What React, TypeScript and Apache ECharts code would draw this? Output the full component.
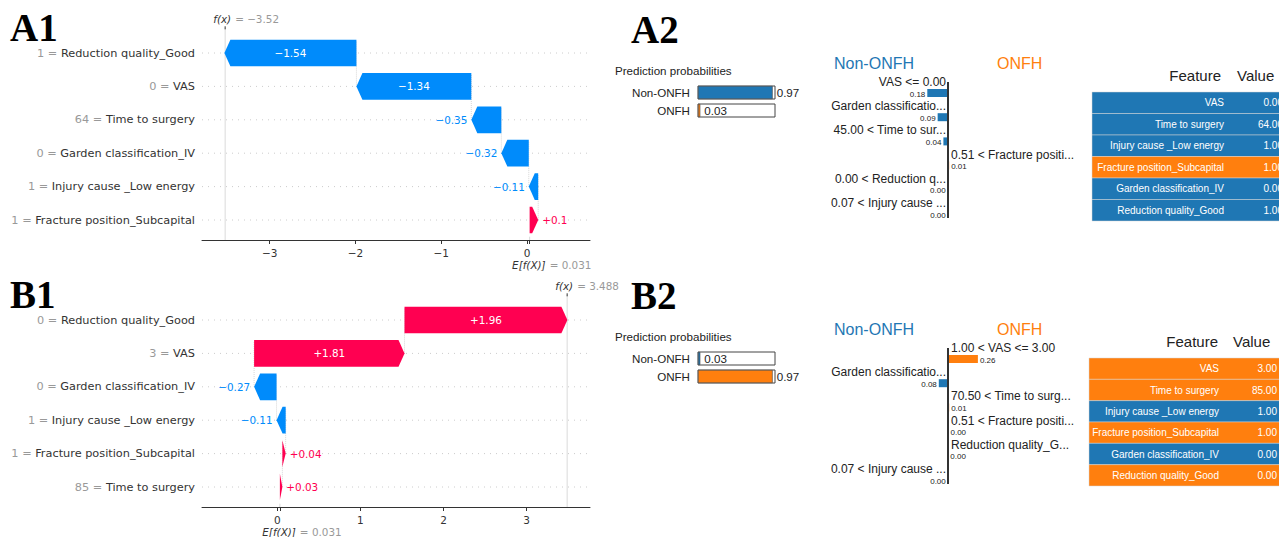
import React, { useEffect, useRef } from "react";
import * as echarts from "echarts";

// ---------- data ----------
const baseValue = 0.031;

const a1Features = ["Reduction quality_Good", "VAS", "Time to surgery", "Garden classification_IV", "Injury cause _Low energy", "Fracture position_Subcapital"];
const a1FeatureValues = ["1", "0", "64", "0", "1", "1"];
const a1Shap = [-1.54, -1.34, -0.35, -0.32, -0.11, 0.1];
const a1Fx = -3.52;
const a1Ticks = [-3, -2, -1, 0];

const b1Features = ["Reduction quality_Good", "VAS", "Garden classification_IV", "Injury cause _Low energy", "Fracture position_Subcapital", "Time to surgery"];
const b1FeatureValues = ["0", "3", "0", "1", "1", "85"];
const b1Shap = [1.96, 1.81, -0.27, -0.11, 0.04, 0.03];
const b1Fx = 3.488;
const b1Ticks = [0, 1, 2, 3];

const outcomeClasses = ["Non-ONFH", "ONFH"];
const a2Proba = [0.97, 0.03];
const b2Proba = [0.03, 0.97];

const a2LimeLabels = ["VAS <= 0.00", "Garden classificatio...", "45.00 < Time to sur...", "0.51 < Fracture positi...", "0.00 < Reduction q...", "0.07 < Injury cause ..."];
const a2LimeWeights = [-0.18, -0.09, -0.04, 0.01, -0.003, -0.002];
const b2LimeLabels = ["1.00 < VAS <= 3.00", "Garden classificatio...", "70.50 < Time to surg...", "0.51 < Fracture positi...", "Reduction quality_G...", "0.07 < Injury cause ..."];
const b2LimeWeights = [0.26, -0.08, 0.01, 0.004, 0.003, -0.002];

const tableFeatures = ["VAS", "Time to surgery", "Injury cause _Low energy", "Fracture position_Subcapital", "Garden classification_IV", "Reduction quality_Good"];
const a2TableValues = ["0.00", "64.00", "1.00", "1.00", "0.00", "1.00"];
const a2TableClass = [0, 0, 0, 1, 0, 0];
const b2TableValues = ["3.00", "85.00", "1.00", "1.00", "0.00", "0.00"];
const b2TableClass = [1, 1, 0, 1, 0, 1];

// ---------- styles ----------
const FONT_SHAP = "'DejaVu Sans', sans-serif";
const FONT_LIME = "'Liberation Sans', Arial, sans-serif";
const FONT_SERIF = "'Liberation Serif', 'Times New Roman', serif";
const BLUE = "#008bfb";
const RED = "#ff0051";
const C_BLUE = "#1f77b4";
const C_ORANGE = "#ff7f0e";
const AXIS_OFFSET = 3.3;

const minus = (s: string) => s.replace("-", "\u2212");

function waterfallData(shap: number[]) {
  const n = shap.length;
  const out: number[][] = new Array(n);
  let cum = baseValue;
  for (let i = n - 1; i >= 0; i--) {
    const s = cum;
    const e = cum + shap[i];
    out[i] = [s, e, i, shap[i]];
    cum = e;
  }
  return out;
}

function txt(x: number, y: number, text: string, o: any) {
  return {
    type: "text",
    x,
    y,
    style: {
      text,
      fill: o.fill,
      fontSize: o.fontSize,
      fontFamily: o.fontFamily,
      fontStyle: o.fontStyle || "normal",
      fontWeight: o.fontWeight || "normal",
      align: o.align,
      textAlign: o.align,
      verticalAlign: "middle",
      textVerticalAlign: "middle",
      lineHeight: o.lineHeight,
    },
    z2: 10,
  };
}

function waterfallRender(n: number) {
  return (params: any, api: any) => {
    const start = api.value(0);
    const end = api.value(1);
    const row = api.value(2);
    const shap = api.value(3);
    const p0 = api.coord([start, row]);
    const p1 = api.coord([end, row]);
    const band = api.size([0, 1])[1];
    const h = band * 0.8;
    const yc = p0[1];
    const x0 = p0[0];
    const x1 = p1[0];
    const w = Math.abs(x1 - x0);
    const hl = Math.min(6, w);
    const pos = end >= start;
    const pts = pos
      ? [[x0, yc - h / 2], [x1 - hl, yc - h / 2], [x1, yc], [x1 - hl, yc + h / 2], [x0, yc + h / 2]]
      : [[x0, yc - h / 2], [x1 + hl, yc - h / 2], [x1, yc], [x1 + hl, yc + h / 2], [x0, yc + h / 2]];
    const color = pos ? RED : BLUE;
    const cs = params.coordSys;
    const children: any[] = [
      { type: "line", shape: { x1: cs.x, y1: yc, x2: cs.x + cs.width, y2: yc }, style: { stroke: "#cccccc", lineWidth: 1, lineDash: [1, 5] }, z2: 0 },
    ];
    if (row < n - 1) {
      children.push({ type: "line", shape: { x1: x0, y1: yc - h / 2 + 2, x2: x0, y2: yc + band }, style: { stroke: "#bbbbbb", lineWidth: 0.6, lineDash: [1, 1] }, z2: 1 });
    }
    children.push({ type: "polygon", shape: { points: pts }, style: { fill: color }, z2: 3 });
    const label = (shap > 0 ? "+" : "\u2212") + String(Math.abs(shap));
    if (w > 45) {
      children.push(txt((x0 + x1) / 2, yc, label, { fill: "#ffffff", fontSize: 10.4, fontFamily: FONT_SHAP, align: "center" }));
    } else if (pos) {
      children.push(txt(x1 + 4, yc, label, { fill: RED, fontSize: 10.4, fontFamily: FONT_SHAP, align: "left" }));
    } else {
      children.push(txt(x1 - 4, yc, label, { fill: BLUE, fontSize: 10.4, fontFamily: FONT_SHAP, align: "right" }));
    }
    return { type: "group", children };
  };
}

function refRender(n: number) {
  return (params: any, api: any) => {
    const fx = api.value(0);
    const base = api.value(2);
    const cs = params.coordSys;
    const xf = api.coord([fx, 0])[0];
    const xb = api.coord([base, 0])[0];
    const axisY = cs.y + cs.height + AXIS_OFFSET;
    const band = api.size([0, 1])[1];
    const lastY = api.coord([base, n - 1])[1];
    const fxText = minus(String(fx));
    return {
      type: "group",
      children: [
        { type: "line", shape: { x1: xf, y1: cs.y - 8, x2: xf, y2: axisY }, style: { stroke: "#cfcfcf", lineWidth: 0.8 }, z2: 0 },
        { type: "line", shape: { x1: xf, y1: cs.y - 10, x2: xf, y2: cs.y - 7 }, style: { stroke: "#333333", lineWidth: 1 }, z2: 1 },
        { type: "line", shape: { x1: xb, y1: lastY + band / 2, x2: xb, y2: axisY }, style: { stroke: "#cfcfcf", lineWidth: 0.8 }, z2: 0 },
        txt(xf + 6, cs.y - 17, "f(x)", { fill: "#333333", fontSize: 10.4, fontFamily: FONT_SHAP, fontStyle: "italic", align: "right", lineHeight: 10 }),
        txt(xf + 10, cs.y - 17, "= " + fxText, { fill: "#999999", fontSize: 10.4, fontFamily: FONT_SHAP, align: "left", lineHeight: 10 }),
        txt(xb + 16, axisY + 24.5, "E[f(X)]", { fill: "#333333", fontSize: 10.4, fontFamily: FONT_SHAP, fontStyle: "italic", align: "right", lineHeight: 10 }),
        txt(xb + 20, axisY + 24.5, "= " + String(base), { fill: "#999999", fontSize: 10.4, fontFamily: FONT_SHAP, align: "left", lineHeight: 10 }),
      ],
    };
  };
}

function waterfallPanel(idx: number, top: number, min: number, max: number, features: string[], vals: string[], shap: number[], fx: number, ticks: number[]) {
  const n = features.length;
  const grid = { left: 202, top, width: 388, height: 200.4, outerBoundsMode: "none", containLabel: false };
  const xAxis = {
    type: "value",
    gridIndex: idx,
    min,
    max,
    offset: AXIS_OFFSET,
    splitLine: { show: false },
    axisLine: { show: true, onZero: false, lineStyle: { color: "#333333", width: 1 } },
    axisTick: { show: true, length: 4, lineStyle: { color: "#333333" }, customValues: [...ticks, baseValue] },
    axisLabel: {
      customValues: ticks,
      formatter: (v: number) => (v < 0 ? "\u2212" + Math.abs(v) : String(v)),
      color: "#333333",
      fontSize: 10.5,
      fontFamily: FONT_SHAP,
      margin: 7,
    },
  };
  const yAxis = {
    type: "category",
    gridIndex: idx,
    inverse: true,
    data: features,
    axisLine: { show: false },
    axisTick: { show: false },
    splitLine: { show: false },
    axisLabel: {
      margin: 7,
      formatter: (v: string, i: number) => `{v|${vals[i]} = }{n|${v}}`,
      rich: {
        v: { color: "#999999", fontSize: 11.3, fontFamily: FONT_SHAP },
        n: { color: "#333333", fontSize: 11.3, fontFamily: FONT_SHAP },
      },
    },
  };
  const series = [
    {
      type: "custom",
      xAxisIndex: idx,
      yAxisIndex: idx,
      silent: true,
      encode: { x: [0, 1], y: 2 },
      data: waterfallData(shap),
      renderItem: waterfallRender(n),
    },
    {
      type: "custom",
      xAxisIndex: idx,
      yAxisIndex: idx,
      silent: true,
      encode: { x: 0, y: 1 },
      data: [[fx, 0, baseValue]],
      renderItem: refRender(n),
    },
  ];
  return { grid, xAxis, yAxis, series };
}

function probaPanel(idx: number, top: number, proba: number[]) {
  const grid = { left: 698, top, width: 77, height: 36, outerBoundsMode: "none", containLabel: false };
  const xAxis = { type: "value", gridIndex: idx, min: 0, max: 1, show: false };
  const yAxis = {
    type: "category",
    gridIndex: idx,
    inverse: true,
    data: outcomeClasses,
    axisLine: { show: false },
    axisTick: { show: false },
    axisLabel: { margin: 8, color: "#222222", fontSize: 11.6, fontFamily: FONT_LIME },
  };
  const series = [
    {
      type: "bar",
      xAxisIndex: idx,
      yAxisIndex: idx,
      silent: true,
      barWidth: 13,
      showBackground: true,
      backgroundStyle: { color: "#ffffff", borderColor: "#444444", borderWidth: 1 },
      data: proba.map((v, i) => ({ value: v, itemStyle: { color: i === 0 ? C_BLUE : C_ORANGE, borderColor: "#444444", borderWidth: 0.6 } })),
      label: {
        show: true,
        position: "right",
        distance: 4,
        formatter: (p: any) => Number(p.value).toFixed(2),
        color: "#222222",
        fontSize: 11.6,
        fontFamily: FONT_LIME,
      },
    },
  ];
  return { grid, xAxis, yAxis, series };
}

function limePanel(idx: number, top: number, labels: string[], weights: number[]) {
  const n = labels.length;
  const grid = { left: 833, top, width: 230, height: 145.2, outerBoundsMode: "none", containLabel: false };
  const xAxis = { type: "value", gridIndex: idx, min: -1, max: 1, show: false };
  const yAxis = { type: "category", gridIndex: idx, inverse: true, data: labels, show: false };
  const series = [
    {
      type: "custom",
      xAxisIndex: idx,
      yAxisIndex: idx,
      silent: true,
      encode: { x: 0, y: 1 },
      data: weights.map((w, i) => [w, i]),
      renderItem: (params: any, api: any) => {
        const v = api.value(0);
        const row = api.value(1);
        const pc = api.coord([0, row]);
        const pv = api.coord([v, row]);
        const yc = pc[1];
        const neg = v < 0;
        const children: any[] = [
          { type: "rect", shape: { x: Math.min(pc[0], pv[0]), y: yc - 4, width: Math.abs(pv[0] - pc[0]), height: 8 }, style: { fill: neg ? C_BLUE : C_ORANGE }, z2: 2 },
          txt(neg ? pc[0] - 2 : pc[0] + 3, yc - 11, labels[params.dataIndex], { fill: "#222222", fontSize: 12, fontFamily: FONT_LIME, align: neg ? "right" : "left", lineHeight: 12 }),
          txt(neg ? pv[0] - 2 : pv[0] + 2, yc + 1, Math.abs(v).toFixed(2), { fill: "#222222", fontSize: 8, fontFamily: FONT_LIME, align: neg ? "right" : "left", lineHeight: 8 }),
        ];
        return { type: "group", children };
      },
    },
    {
      type: "custom",
      xAxisIndex: idx,
      yAxisIndex: idx,
      silent: true,
      encode: { x: 0, y: 1 },
      data: [[0, 0]],
      renderItem: (params: any, api: any) => {
        const p = api.coord([api.value(0), 0]);
        const pl = api.coord([api.value(0), n - 1]);
        return { type: "line", shape: { x1: p[0], y1: p[1] - 11, x2: p[0], y2: pl[1] + 4 }, style: { stroke: "#333333", lineWidth: 2 }, z2: 5 };
      },
    },
  ];
  return { grid, xAxis, yAxis, series };
}

function tablePanel(idx: number, left: number, top: number, height: number, values: string[], classes: number[], featRight: number, valRight: number) {
  const grid = { left, top, width: 220, height, outerBoundsMode: "none", containLabel: false };
  const xAxis = { type: "value", gridIndex: idx, min: 0, max: 1, show: false };
  const yAxis = { type: "category", gridIndex: idx, inverse: true, data: tableFeatures, show: false };
  const series = [
    {
      type: "custom",
      xAxisIndex: idx,
      yAxisIndex: idx,
      silent: true,
      encode: { x: 0, y: 1 },
      data: classes.map((c, i) => [c, i]),
      renderItem: (params: any, api: any) => {
        const c = api.value(0);
        const row = api.value(1);
        const cs = params.coordSys;
        const yc = api.coord([0, row])[1];
        const band = api.size([0, 1])[1];
        return {
          type: "group",
          children: [
            { type: "rect", shape: { x: cs.x, y: yc - band / 2, width: cs.width, height: band }, style: { fill: c === 1 ? C_ORANGE : C_BLUE, stroke: "#d6d6d6", lineWidth: 0.5 }, z2: 1 },
            txt(cs.x + featRight, yc, tableFeatures[params.dataIndex], { fill: "#ffffff", fontSize: 10, fontFamily: FONT_LIME, align: "right" }),
            txt(cs.x + valRight, yc, values[params.dataIndex], { fill: "#ffffff", fontSize: 10, fontFamily: FONT_LIME, align: "right" }),
          ],
        };
      },
    },
  ];
  return { grid, xAxis, yAxis, series };
}

function textG(left: number, top: number, text: string, font: string, size: number, color: string, weight = "normal", align = "left", lineHeight?: number) {
  return {
    type: "text",
    x: left,
    y: top,
    style: { text, fill: color, fontFamily: font, fontSize: size, fontWeight: weight, align, textAlign: align, verticalAlign: "middle", textVerticalAlign: "middle", lineHeight: lineHeight ?? size },
  };
}

export default function App() {
  const ref = useRef<HTMLDivElement>(null);
  useEffect(() => {
    if (!ref.current) return;
    const chart = echarts.init(ref.current, undefined, { renderer: "svg" });
    const panels = [
      waterfallPanel(0, 36.3, -3.79, 0.735, a1Features, a1FeatureValues, a1Shap, a1Fx, a1Ticks),
      waterfallPanel(1, 303.3, -0.906, 3.763, b1Features, b1FeatureValues, b1Shap, b1Fx, b1Ticks),
      probaPanel(2, 83.5, a2Proba),
      probaPanel(3, 349.5, b2Proba),
      limePanel(4, 80.9, a2LimeLabels, a2LimeWeights),
      limePanel(5, 346.9, b2LimeLabels, b2LimeWeights),
      tablePanel(6, 1092, 92, 129, a2TableValues, a2TableClass, 132, 191),
      tablePanel(7, 1089, 358, 128, b2TableValues, b2TableClass, 130, 188),
    ];
    const graphic = [
      textG(10, 27.5, "A1", FONT_SERIF, 39, "#000000", "bold", "left", 26),
      textG(10, 294.5, "B1", FONT_SERIF, 39, "#000000", "bold", "left", 26),
      textG(631, 29, "A2", FONT_SERIF, 39, "#000000", "bold", "left", 26),
      textG(631, 295.5, "B2", FONT_SERIF, 39, "#000000", "bold", "left", 26),
      textG(615, 70, "Prediction probabilities", FONT_LIME, 11.6, "#222222"),
      textG(615, 336, "Prediction probabilities", FONT_LIME, 11.6, "#222222"),
      textG(834, 63, "Non-ONFH", FONT_LIME, 16, C_BLUE),
      textG(997, 63, "ONFH", FONT_LIME, 16, C_ORANGE),
      textG(834, 329, "Non-ONFH", FONT_LIME, 16, C_BLUE),
      textG(997, 329, "ONFH", FONT_LIME, 16, C_ORANGE),
      textG(1221, 75, "Feature", FONT_LIME, 15, "#222222", "normal", "right"),
      textG(1237, 75, "Value", FONT_LIME, 15, "#222222"),
      textG(1218, 341, "Feature", FONT_LIME, 15, "#222222", "normal", "right"),
      textG(1233, 341, "Value", FONT_LIME, 15, "#222222"),
    ];
    chart.setOption({
      animation: false,
      backgroundColor: "#ffffff",
      textStyle: { fontFamily: FONT_SHAP },
      grid: panels.map((p) => p.grid),
      xAxis: panels.map((p) => p.xAxis),
      yAxis: panels.map((p) => p.yAxis),
      series: panels.flatMap((p) => p.series),
      graphic,
    });
    return () => chart.dispose();
  }, []);
  return <div ref={ref} style={{ position: "absolute", left: 0, top: 0, width: 1279, height: 537 }} />;
}
